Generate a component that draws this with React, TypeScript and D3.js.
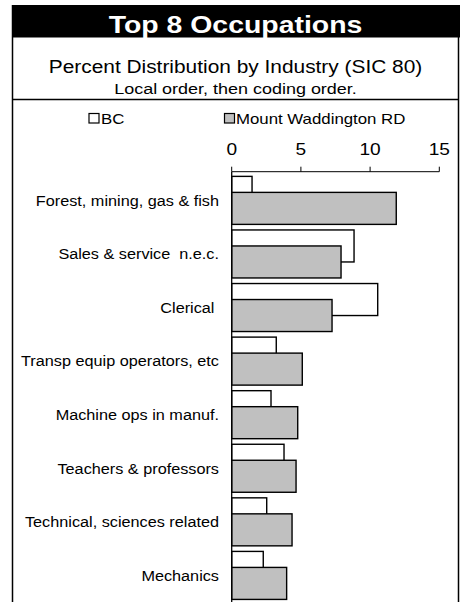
import * as d3 from "d3";
import { useMemo } from "react";

const W = 460;
const H = 602;
const FONT = "'Liberation Sans', Arial, Helvetica, sans-serif";
// the source image is stretched sideways a little; text is drawn the same way
const SX = 1.16;

const categories = [
  "Forest, mining, gas & fish",
  "Sales & service  n.e.c.",
  "Clerical ",
  "Transp equip operators, etc",
  "Machine ops in manuf.",
  "Teachers & professors",
  "Technical, sciences related",
  "Mechanics",
];
const bcValues = [1.47, 8.84, 10.55, 3.22, 2.84, 3.78, 2.53, 2.28];
const mwValues = [11.89, 7.9, 7.25, 5.1, 4.77, 4.65, 4.36, 3.97];
const xTicks = [0, 5, 10, 15];

const FRAME = { left: 12.5, right: 458.5, top: 5 };
const AXIS_Y = 171.7;

function SText({
  x,
  y,
  size,
  anchor = "start",
  weight = 400,
  fill = "#000",
  children,
}: {
  x: number;
  y: number;
  size: number;
  anchor?: "start" | "middle" | "end";
  weight?: number;
  fill?: string;
  children: string;
}) {
  return (
    <text
      transform={`translate(${x},${y}) scale(${SX},1)`}
      textAnchor={anchor}
      fontSize={size}
      fontWeight={weight}
      fill={fill}
      fontFamily={FONT}
      style={{ whiteSpace: "pre" }}
    >
      {children}
    </text>
  );
}

export default function App() {
  const x = useMemo(
    () => d3.scaleLinear().domain([0, 15]).range([231.7, 439.3]),
    [],
  );
  const y = useMemo(
    () =>
      d3
        .scaleBand<string>()
        .domain(categories)
        .range([173.7, 602.1])
        .paddingInner(0.104)
        .paddingOuter(0.05),
    [],
  );

  const bw = y.bandwidth();
  const barH = (bw * 2) / 3;
  const cx = (FRAME.left + FRAME.right) / 2;

  return (
    <svg
      width={W}
      height={H}
      viewBox={`0 0 ${W} ${H}`}
      style={{ position: "absolute", left: 0, top: 0, background: "#fff" }}
    >
      <rect x={0} y={0} width={W} height={H} fill="#fff" />

      {/* Title band */}
      <rect x={FRAME.left - 0.5} y={FRAME.top} width={W - FRAME.left + 0.5} height={32.5} fill="#000" />
      <SText x={cx} y={32.5} size={24.5} anchor="middle" weight={700} fill="#fff">
        Top 8 Occupations
      </SText>

      {/* Frame */}
      <line x1={FRAME.left} x2={FRAME.left} y1={FRAME.top} y2={H} stroke="#000" strokeWidth={1.5} />
      <line x1={FRAME.right} x2={FRAME.right} y1={FRAME.top} y2={H} stroke="#000" strokeWidth={1.5} />
      <line x1={FRAME.left} x2={FRAME.right} y1={99.5} y2={99.5} stroke="#000" strokeWidth={1.5} />

      <SText x={cx} y={73} size={18} anchor="middle">
        Percent Distribution by Industry (SIC 80)
      </SText>
      <SText x={cx} y={93.5} size={15.5} anchor="middle">
        Local order, then coding order.
      </SText>

      {/* Legend */}
      <rect x={89} y={113.5} width={10} height={9.5} fill="#fff" stroke="#000" strokeWidth={1.2} />
      <SText x={101} y={123.5} size={14.5}>
        BC
      </SText>
      <rect x={224.5} y={113.5} width={10} height={9.5} fill="#c0c0c0" stroke="#000" strokeWidth={1.2} />
      <SText x={236} y={123.5} size={14.5}>
        Mount Waddington RD
      </SText>

      {/* Top axis */}
      <line x1={x(0)} x2={x(15)} y1={AXIS_Y} y2={AXIS_Y} stroke="#000" strokeWidth={1} />
      {xTicks.map((t) => (
        <g key={t}>
          <line x1={x(t)} x2={x(t)} y1={AXIS_Y} y2={AXIS_Y - 5} stroke="#000" strokeWidth={1} />
          <SText x={x(t)} y={154.5} size={16.5} anchor="middle">
            {String(t)}
          </SText>
        </g>
      ))}

      {/* Bars: BC behind, Mount Waddington overlapping its lower half */}
      {categories.map((c, i) => {
        const y0 = y(c) ?? 0;
        return (
          <g key={c}>
            <rect
              x={x(0)}
              y={y0}
              width={x(bcValues[i]) - x(0)}
              height={barH}
              fill="#fff"
              stroke="#000"
              strokeWidth={1.4}
            />
            <rect
              x={x(0)}
              y={y0 + bw - barH}
              width={x(mwValues[i]) - x(0)}
              height={barH}
              fill="#c0c0c0"
              stroke="#000"
              strokeWidth={1.4}
            />
            <SText x={219} y={y0 + bw / 2 + 5.3} size={14} anchor="end">
              {c}
            </SText>
          </g>
        );
      })}

      {/* Category axis */}
      <line x1={x(0)} x2={x(0)} y1={AXIS_Y} y2={H} stroke="#000" strokeWidth={1.3} />
    </svg>
  );
}
